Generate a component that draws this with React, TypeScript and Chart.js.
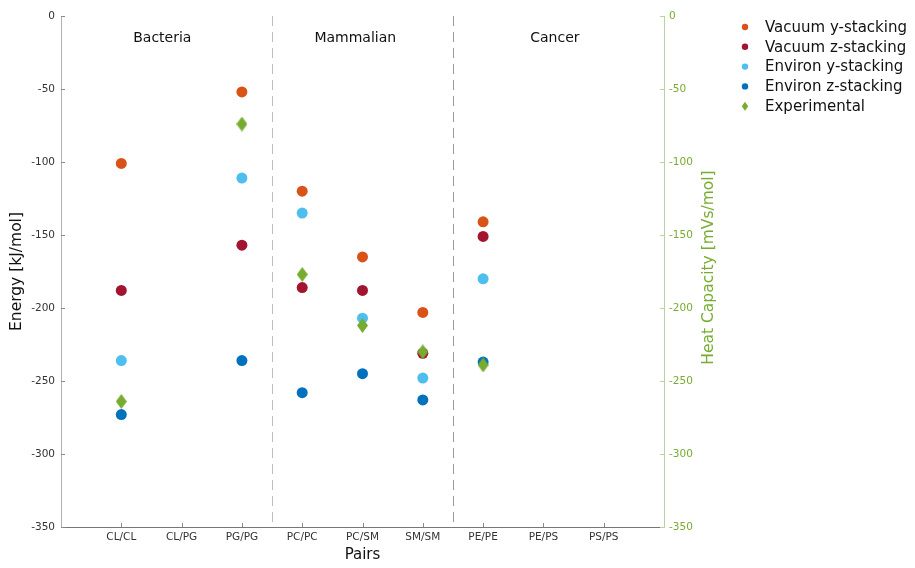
import React, { useEffect, useRef } from "react";
import { Chart, registerables } from "chart.js";

Chart.register(...registerables);

const categories = ["CL/CL", "CL/PG", "PG/PG", "PC/PC", "PC/SM", "SM/SM", "PE/PE", "PE/PS", "PS/PS"];
const vacuumY: (number | null)[] = [-101, null, -52, -120, -165, -203, -141, null, null];
const vacuumZ: (number | null)[] = [-188, null, -157, -186, -188, -231, -151, null, null];
const environY: (number | null)[] = [-236, null, -111, -135, -207, -248, -180, null, null];
const environZ: (number | null)[] = [-273, null, -236, -258, -245, -263, -237, null, null];
const experimental: (number | null)[] = [-264, null, -74, -177, -212, -230, -239, null, null];
const groupNames = ["Bacteria", "Mammalian", "Cancer"];
const yMin = -350;
const yMax = 0;
const yStep = 50;

const C_VY = "#D95319";
const C_VZ = "#A2142F";
const C_EY = "#4DBEEE";
const C_EZ = "#0072BD";
const C_EX = "#77AC30";
const FONT = "'DejaVu Sans', sans-serif";

function toPoints(vals: (number | null)[]) {
  const pts: { x: number; y: number }[] = [];
  vals.forEach((v, i) => {
    if (v !== null) pts.push({ x: i + 1, y: v });
  });
  return pts;
}

function makeDiamond(w: number, h: number, color: string) {
  const c = document.createElement("canvas");
  c.width = w;
  c.height = h;
  const ctx = c.getContext("2d")!;
  ctx.fillStyle = color;
  ctx.beginPath();
  ctx.moveTo(w / 2, 0);
  ctx.lineTo(w, h / 2);
  ctx.lineTo(w / 2, h);
  ctx.lineTo(0, h / 2);
  ctx.closePath();
  ctx.fill();
  return c;
}

export default function App() {
  const ref = useRef<HTMLCanvasElement | null>(null);

  useEffect(() => {
    if (!ref.current) return;
    const diamond = makeDiamond(11, 15, C_EX);
    const legendItems = [
      { label: "Vacuum y-stacking", color: C_VY, shape: "circle" },
      { label: "Vacuum z-stacking", color: C_VZ, shape: "circle" },
      { label: "Environ y-stacking", color: C_EY, shape: "circle" },
      { label: "Environ z-stacking", color: C_EZ, shape: "circle" },
      { label: "Experimental", color: C_EX, shape: "diamond" },
    ];

    const decor = {
      id: "decor",
      afterDraw(chart: any) {
        const ctx = chart.ctx;
        const area = chart.chartArea;
        const xs = chart.scales.x;
        const ys = chart.scales.y;
        ctx.save();
        // dividers
        ctx.setLineDash([10, 6]);
        ctx.lineWidth = 1;
        [3.5, 6.5].forEach((v, i) => {
          const px = Math.round(xs.getPixelForValue(v)) + 0.5;
          ctx.strokeStyle = i === 0 ? "#bdbdbd" : "#9a9a9a";
          ctx.beginPath();
          ctx.moveTo(px, area.top);
          ctx.lineTo(px, area.bottom);
          ctx.stroke();
        });
        ctx.setLineDash([]);
        // inward ticks
        ctx.lineWidth = 1;
        ctx.strokeStyle = "#8a8a8a";
        for (let v = yMin; v <= yMax; v += yStep) {
          const py = Math.round(ys.getPixelForValue(v)) + 0.5;
          ctx.beginPath();
          ctx.moveTo(area.left, py);
          ctx.lineTo(area.left + 4, py);
          ctx.stroke();
        }
        ctx.strokeStyle = "#b7d49c";
        for (let v = yMin; v <= yMax; v += yStep) {
          const py = Math.round(ys.getPixelForValue(v)) + 0.5;
          ctx.beginPath();
          ctx.moveTo(area.right - 4, py);
          ctx.lineTo(area.right, py);
          ctx.stroke();
        }
        ctx.strokeStyle = "#8a8a8a";
        for (let i = 1; i <= categories.length; i++) {
          const px = Math.round(xs.getPixelForValue(i)) + 0.5;
          ctx.beginPath();
          ctx.moveTo(px, area.bottom);
          ctx.lineTo(px, area.bottom - 4);
          ctx.stroke();
        }
        // right axis title (reads bottom to top)
        ctx.save();
        ctx.translate(area.right + 45, (area.top + area.bottom) / 2 - 4);
        ctx.rotate(-Math.PI / 2);
        ctx.fillStyle = C_EX;
        ctx.font = `15.5px ${FONT}`;
        ctx.textAlign = "center";
        ctx.textBaseline = "middle";
        ctx.fillText("Heat Capacity [mVs/mol]", 0, 0);
        ctx.restore();
        // group labels
        ctx.fillStyle = "#111";
        ctx.font = `14px ${FONT}`;
        ctx.textAlign = "center";
        ctx.textBaseline = "middle";
        const groupAt = [1.68, 4.88, 8.19];
        groupNames.forEach((g, i) => {
          ctx.fillText(g, xs.getPixelForValue(groupAt[i]), area.top + 22);
        });
        // legend
        ctx.font = `15px ${FONT}`;
        ctx.textAlign = "left";
        legendItems.forEach((it, i) => {
          const cy = 27 + i * 19.8;
          ctx.fillStyle = it.color;
          if (it.shape === "circle") {
            ctx.beginPath();
            ctx.arc(745, cy, 3.2, 0, Math.PI * 2);
            ctx.fill();
          } else {
            ctx.beginPath();
            ctx.moveTo(745, cy - 4.5);
            ctx.lineTo(748.2, cy);
            ctx.lineTo(745, cy + 4.5);
            ctx.lineTo(741.8, cy);
            ctx.closePath();
            ctx.fill();
          }
          ctx.fillStyle = "#111";
          ctx.fillText(it.label, 765, cy + 1);
        });
        ctx.restore();
      },
    };

    const circleDs = (label: string, vals: (number | null)[], color: string, order: number) => ({
      label,
      data: toPoints(vals),
      backgroundColor: color,
      borderColor: color,
      borderWidth: 0,
      pointRadius: 5.5,
      pointHoverRadius: 5.5,
      pointStyle: "circle",
      yAxisID: "y",
      order,
    });

    const chart = new Chart(ref.current, {
      type: "scatter",
      data: {
        datasets: [
          circleDs("Vacuum y-stacking", vacuumY, C_VY, 5),
          circleDs("Vacuum z-stacking", vacuumZ, C_VZ, 4),
          circleDs("Environ y-stacking", environY, C_EY, 3),
          circleDs("Environ z-stacking", environZ, C_EZ, 2),
          {
            label: "Experimental",
            data: toPoints(experimental),
            backgroundColor: C_EX,
            borderColor: C_EX,
            borderWidth: 0,
            pointRadius: 7,
            pointStyle: diamond as any,
            yAxisID: "y2",
            order: 1,
          },
        ],
      },
      options: {
        animation: false,
        responsive: false,
        events: [],
        layout: { padding: { top: 16, right: 191, bottom: 0, left: 0 } },
        plugins: {
          legend: { display: false },
          tooltip: { enabled: false },
        },
        scales: {
          x: {
            type: "linear",
            min: 0,
            max: categories.length + 1,
            afterBuildTicks: (s: any) => {
              s.ticks = categories.map((_, i) => ({ value: i + 1 }));
            },
            afterFit: (s: any) => {
              s.height = 41;
            },
            ticks: {
              callback: (v: any) => categories[Number(v) - 1] ?? "",
              font: { family: FONT, size: 10.5 },
              color: "#333",
              padding: 4,
              maxRotation: 0,
              autoSkip: false,
            },
            grid: { display: false, drawTicks: false },
            border: { display: true, color: "#777", width: 1 },
            title: {
              display: true,
              text: "Pairs",
              font: { family: FONT, size: 15 },
              color: "#111",
              padding: { top: 0, bottom: 4 },
            },
          },
          y: {
            type: "linear",
            position: "left",
            min: yMin,
            max: yMax,
            afterBuildTicks: (s: any) => {
              const t = [];
              for (let v = yMin; v <= yMax; v += yStep) t.push({ value: v });
              s.ticks = t;
            },
            afterFit: (s: any) => {
              s.width = 61;
            },
            ticks: {
              font: { family: FONT, size: 10.5 },
              color: "#333",
              padding: 6,
            },
            grid: { display: false, drawTicks: false },
            border: { display: true, color: "#b0b0b0", width: 1 },
            title: {
              display: true,
              text: "Energy [kJ/mol]",
              font: { family: FONT, size: 15.5 },
              color: "#111",
              padding: { top: 8, bottom: 0 },
            },
          },
          y2: {
            type: "linear",
            position: "right",
            min: yMin,
            max: yMax,
            afterBuildTicks: (s: any) => {
              const t = [];
              for (let v = yMin; v <= yMax; v += yStep) t.push({ value: v });
              s.ticks = t;
            },
            afterFit: (s: any) => {
              s.width = 60;
            },
            ticks: {
              font: { family: FONT, size: 10.5 },
              color: C_EX,
              padding: 5,
            },
            grid: { display: false, drawTicks: false },
            border: { display: true, color: "#b7d49c", width: 1 },
            title: { display: false },
          },
        },
      },
      plugins: [decor],
    } as any);

    return () => chart.destroy();
  }, []);

  return (
    <div style={{ position: "fixed", left: 0, top: 0, width: 915, height: 568, background: "#fff" }}>
      <canvas ref={ref} width={915} height={568} style={{ display: "block", width: 915, height: 568 }} />
    </div>
  );
}
